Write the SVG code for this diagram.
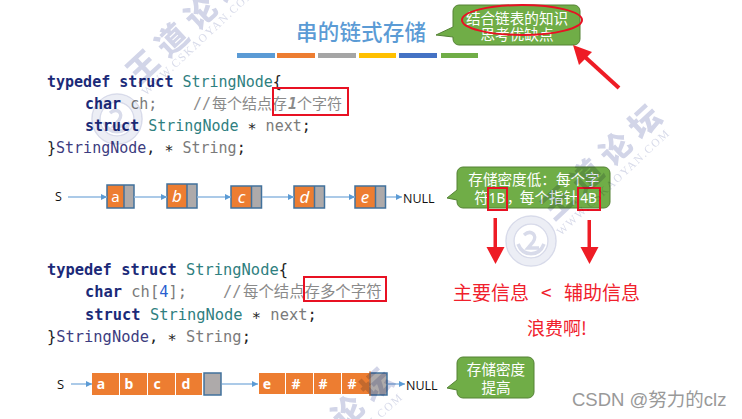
<svg xmlns="http://www.w3.org/2000/svg" width="742" height="419" viewBox="0 0 742 419">
<style>
text{font-family:"Noto Sans CJK SC","Noto Sans",sans-serif}
.code text,.code{font-family:"DejaVu Sans Mono","Noto Sans CJK SC",monospace;white-space:pre}
.k{fill:#1b2a78;font-weight:bold}.t{fill:#2f8080}.v{fill:#7a7a7a}.c{fill:#8a8a8a}.p{fill:#3c3c80}.s{fill:#222}
.cn{font-family:"Noto Sans CJK SC",sans-serif}
.call{fill:#70ad47;stroke:#548235;stroke-width:1}
.ct{fill:#fff;font-size:14.6px;text-anchor:middle}
.ctl{fill:#fff;font-size:13.5px;text-anchor:middle;font-family:"Noto Sans",sans-serif}
.red{fill:none;stroke:#e81123;stroke-width:2}
.o{fill:#ed7d31}.g{fill:#aeaaaa}
.bd{fill:none;stroke:#41719c;stroke-width:1.5}
.li{fill:#fff;font-size:17px;font-style:italic;text-anchor:middle;font-family:"Noto Sans",sans-serif}
.la{fill:#fff;font-size:15px;text-anchor:middle;font-family:"Noto Sans",sans-serif}
.lb{fill:#fff;font-size:14px;font-weight:bold;text-anchor:middle;font-family:"Noto Sans",sans-serif}
.lab{fill:#111;font-size:12.5px;font-family:"Open Sans",sans-serif}
.ln{stroke:#8fb8e0;stroke-width:1.5;fill:none;marker-end:url(#a)}
.rt{fill:#f0202c;font-size:19px}
.wm{mix-blend-mode:multiply}
.w1{fill:#d2d5e8;font-size:31px;font-weight:900;letter-spacing:8.6px}
.w2{fill:#d8dbea;font-size:11.5px;letter-spacing:1.5px;font-family:"Liberation Serif",serif}
.ring{fill:none;stroke:#d8dbea;stroke-width:1.5}
.band{fill:none;stroke:#eceef5;stroke-width:6.500}
.fig{fill:none;stroke:#d8dbea;stroke-width:3.500}
</style>
<defs>
<marker id="a" markerWidth="8" markerHeight="8" refX="6" refY="3" orient="auto" markerUnits="userSpaceOnUse"><path d="M0,0L6,3L0,6z" fill="#5b9bd5"/></marker>
<g id="logo">
<circle class="band" r="21"/><circle class="ring" r="25"/><circle class="ring" r="17"/>
<path class="fig" d="M-13,3c5,13 21,13 26,0M-7,-6c7,-6 14,0 9,7l-5,6h11"/>
</g>
</defs>
<rect width="742" height="419" fill="#fff"/>

<g id="title">
<text x="296" y="40" font-size="21.5" font-weight="500" fill="#5b9bd5" textLength="130">串的链式存储</text>
<rect x="237" y="53" width="38" height="5" fill="#5b9bd5"/>
<rect x="277" y="53" width="38" height="5" fill="#ed7d31"/>
<rect x="318" y="53" width="38" height="5" fill="#a5a5a5"/>
<rect x="359" y="53" width="37" height="5" fill="#ffc000"/>
<rect x="399" y="53" width="38" height="5" fill="#4472c4"/>
<rect x="441" y="53" width="37" height="5" fill="#70ad47"/>
</g>

<g id="callout-top">
<path class="call" d="M459,5H574a6,6 0 0 1 6,6V39a6,6 0 0 1 -6,6H459a6,6 0 0 1 -6,-6V37L436,35L453,27V11a6,6 0 0 1 6,-6z"/>
<text class="ct" x="517" y="24">结合链表的知识</text>
<text class="ct" x="517" y="40">思考优缺点</text>
<ellipse class="red" cx="522" cy="20" rx="60" ry="15"/>
</g>

<g id="code-1" class="code" font-size="15">
<text x="47" y="87"><tspan class="k">typedef struct</tspan><tspan class="t"> StringNode</tspan><tspan class="s">{</tspan></text>
<text x="85" y="109"><tspan class="k">char</tspan><tspan class="v"> ch;</tspan></text>
<text x="193" y="109" class="c">//<tspan class="cn" x="212">每个结点存</tspan><tspan x="288" font-weight="bold" font-style="italic">1</tspan><tspan class="cn" x="297">个字符</tspan></text>
<text x="85" y="131"><tspan class="k">struct</tspan><tspan class="t"> StringNode</tspan><tspan class="s"> ∗</tspan><tspan class="v"> next</tspan><tspan class="s">;</tspan></text>
<text x="47" y="153"><tspan class="s">}</tspan><tspan class="p">StringNode</tspan><tspan class="s">, ∗</tspan><tspan class="v"> String</tspan><tspan class="s">;</tspan></text>
<rect class="red" x="273" y="88" width="75" height="27"/>
</g>

<g id="list-1">
<text class="lab" x="55" y="201" font-size="12">S</text>
<g id="n-a"><rect class="o" x="107" y="185" width="17" height="23"/><rect class="g" x="124" y="185" width="10" height="23"/><rect class="bd" x="107" y="185" width="27" height="23"/><path d="M124,185V208" class="bd"/><text class="la" x="115.500" y="202">a</text></g>
<g id="n-b"><rect class="o" x="167" y="184" width="20" height="24"/><rect class="g" x="187" y="184" width="10" height="24"/><rect class="bd" x="167" y="184" width="30" height="24"/><path d="M187,184V208" class="bd"/><text class="li" x="177" y="202">b</text></g>
<g id="n-c"><rect class="o" x="231" y="186" width="20.500" height="22"/><rect class="g" x="251.500" y="186" width="10" height="22"/><rect class="bd" x="231" y="186" width="30.500" height="22"/><path d="M251.500,186V208" class="bd"/><text class="li" x="241.500" y="203">c</text></g>
<g id="n-d"><rect class="o" x="294" y="186" width="20.500" height="22"/><rect class="g" x="314.500" y="186" width="10" height="22"/><rect class="bd" x="294" y="186" width="30.500" height="22"/><path d="M314.500,186V208" class="bd"/><text class="li" x="304.500" y="203">d</text></g>
<g id="n-e"><rect class="o" x="355" y="186" width="20.500" height="22"/><rect class="g" x="375.500" y="186" width="10" height="22"/><rect class="bd" x="355" y="186" width="30.500" height="22"/><path d="M375.500,186V208" class="bd"/><text class="li" x="365" y="203">e</text></g>
<text class="lab" x="403" y="203">NULL</text>
</g>

<g id="connectors-1">
<path class="ln" d="M68,197H107"/>
<path class="ln" d="M134,197H167"/>
<path class="ln" d="M197,197H231"/>
<path class="ln" d="M262,197H294"/>
<path class="ln" d="M325,197H355"/>
<path class="ln" d="M386,197H402"/>
</g>

<g id="callout-mid">
<path class="call" d="M463,167H604a6,6 0 0 1 6,6V202a6,6 0 0 1 -6,6H463a6,6 0 0 1 -6,-6V200L447,198L457,190V173a6,6 0 0 1 6,-6z"/>
<text class="ct" x="534" y="185">存储密度低：每个字</text>
<text class="ct" x="481.500" y="203">符</text>
<text class="ctl" x="497" y="203">1B</text>
<text class="ct" x="514" y="203">，</text>
<text class="ct" x="549" y="203">每个指针</text>
<text class="ctl" x="588.500" y="203">4B</text>
<rect class="red" x="488" y="188" width="19" height="22"/>
<rect class="red" x="578" y="188" width="22" height="22"/>
</g>

<g id="code-2" class="code" font-size="15.400">
<text x="47" y="275"><tspan class="k">typedef struct</tspan><tspan class="t"> StringNode</tspan><tspan class="s">{</tspan></text>
<text x="85" y="297"><tspan class="k">char</tspan><tspan class="v"> ch[</tspan><tspan fill="#2a5fd0">4</tspan><tspan class="v">];</tspan></text>
<text x="223" y="297" class="c">//<tspan class="cn" x="243">每个结点存多个字符</tspan></text>
<text x="85" y="320"><tspan class="k">struct</tspan><tspan class="t"> StringNode</tspan><tspan class="s"> ∗</tspan><tspan class="v"> next</tspan><tspan class="s">;</tspan></text>
<text x="47" y="342"><tspan class="s">}</tspan><tspan class="p">StringNode</tspan><tspan class="s">, ∗</tspan><tspan class="v"> String</tspan><tspan class="s">;</tspan></text>
<rect class="red" x="304" y="277" width="82" height="24"/>
</g>

<g id="list-2">
<text class="lab" x="57" y="389" style="font-size:13px">S</text>
<g id="block-1">
<rect class="o" x="92" y="373" width="27" height="22"/><rect class="o" x="120" y="373" width="27" height="22"/><rect class="o" x="148" y="373" width="27" height="22"/><rect class="o" x="176" y="373" width="26" height="22"/>
<rect class="g" x="204" y="373" width="17" height="22"/><rect class="bd" x="204" y="373" width="17" height="22"/>
<text class="lb" x="101" y="389">a</text><text class="lb" x="129" y="389">b</text><text class="lb" x="157" y="389">c</text><text class="lb" x="186" y="389">d</text>
</g>
<g id="block-2">
<rect class="o" x="259" y="373" width="26" height="21"/><rect class="o" x="286" y="373" width="27" height="21"/><rect class="o" x="314" y="373" width="27" height="21"/><rect class="o" x="342" y="373" width="28" height="21"/>
<rect class="g" x="370" y="373" width="17" height="22"/><rect class="bd" x="370" y="373" width="17" height="22"/><path d="M370,371V396" stroke="#ed7d31" stroke-width="1"/>
<text class="lb" x="267" y="389">e</text><text class="lb" x="296" y="389">#</text><text class="lb" x="323" y="389">#</text><text class="lb" x="352" y="389">#</text>
</g>
<text class="lab" x="406" y="390">NULL</text>
</g>

<g id="connectors-2">
<path class="ln" d="M71,384H92"/>
<path class="ln" d="M222,384H258"/>
<path class="ln" d="M388,384H405"/>
</g>

<g id="callout-bottom">
<path class="call" d="M463,357H528a6,6 0 0 1 6,6V392a6,6 0 0 1 -6,6H463a6,6 0 0 1 -6,-6V390L447,388L457,380V363a6,6 0 0 1 6,-6z"/>
<text class="ct" x="496" y="375">存储密度</text>
<text class="ct" x="496" y="393">提高</text>
</g>

<g id="red-arrows">
<path d="M493.500,218h3.500v29h7.500l-9,17l-9,-17h7z" fill="#ee1c25"/>
<path d="M587.500,220h3.500v27h7.500l-9,17l-9,-17h7z" fill="#ee1c25"/>
<path d="M619,88L585,57" stroke="#ee1c25" stroke-width="4"/><path d="M573,45L592,52L579,65z" fill="#ee1c25"/>
</g>

<g id="labels">
<text class="rt" x="453" y="300">主要信息</text>
<text class="rt" x="541" y="300" style="font-size:19px">&lt;</text>
<text class="rt" x="564" y="300">辅助信息</text>
<text class="rt" x="527" y="335" style="font-size:18px">浪费啊!</text>
</g>

<g id="watermarks" class="wm">
<text class="w1" transform="translate(139,85.500) rotate(-43)">王道论坛</text>
<text class="w2" transform="translate(146,96) rotate(-43)">WWW.CSKAOYAN.COM</text>
<use href="#logo" x="117" y="119"/>
<text class="w1" transform="translate(554,221.500) rotate(-43)">王道论坛</text>
<text class="w2" transform="translate(561,236) rotate(-43)">WWW.CSKAOYAN.COM</text>
<use href="#logo" x="531" y="241"/>
<text class="w1" transform="translate(286,484.500) rotate(-43)">王道论坛</text>
<text class="w2" transform="translate(294,500) rotate(-43)">WWW.CSKAOYAN.COM</text>
</g>

<text id="credit" x="572" y="406" font-size="18.500" fill="#999" style="font-family:'Liberation Sans','Noto Sans CJK SC',sans-serif">CSDN @努力的clz</text>
</svg>
